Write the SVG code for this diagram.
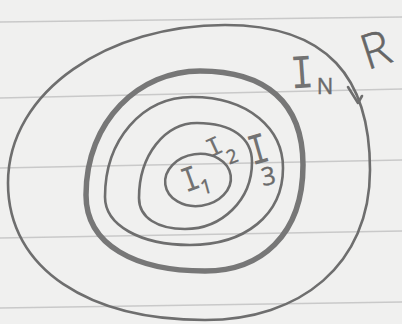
<svg xmlns="http://www.w3.org/2000/svg" width="402" height="324" viewBox="0 0 402 324">
<style>
.paper{fill:#f0f0ef}
.rule{stroke:#c9c9c9;stroke-width:1.6;fill:none}
.ink{stroke:#6e6e6e;fill:none;stroke-width:2.6;stroke-linecap:round;stroke-linejoin:round}
.thick{stroke:#777;stroke-width:5.5}
.lbl{font-family:"Liberation Mono",monospace;fill:#727272;text-anchor:middle;dominant-baseline:central}
.sub{font-family:"Open Sans","Liberation Sans",sans-serif;font-weight:400;fill:#6a6a6a;stroke:#6a6a6a;stroke-width:0.4;text-anchor:middle;dominant-baseline:central}
.big{font-family:"Open Sans","Liberation Sans",sans-serif;font-weight:300;fill:#666;stroke:#666;stroke-width:0.6;text-anchor:middle;dominant-baseline:central}
</style>
<rect class="paper" x="0" y="0" width="402" height="324"/>
<g id="rules">
<path class="rule" d="M0,22 L402,17"/>
<path class="rule" d="M0,98 L402,89"/>
<path class="rule" d="M0,168 L402,160"/>
<path class="rule" d="M0,238 L402,231"/>
<path class="rule" d="M0,308 L402,302"/>
</g>
<g id="R">
<path class="ink" d="M225,25 C328,25 370,78 370,170 C370,265 300,320 205,320 C90,320 8,270 8,183 C8,90 110,25 225,25 Z"/>
<path class="ink" d="M348,87 L358,103 L362,96"/>
<text class="big" font-size="48" transform="translate(375 48) rotate(-18)">R</text>
</g>
<g id="IN">
<path class="ink thick" d="M200,71 C265,71 303,102 303,165 C303,236 260,271 205,271 C135,271 86,245 86,195 C86,120 140,71 200,71 Z"/>
<text class="lbl" font-size="48" transform="translate(302 75) rotate(-4) scale(0.8 1)">I</text>
<text class="sub" font-size="22" transform="translate(325 85)">N</text>
</g>
<g id="I3">
<path class="ink" d="M192,97 C250,97 283,130 283,168 C283,215 245,245 190,245 C140,245 105,225 105,197 C105,140 142,97 192,97 Z"/>
<text class="lbl" font-size="44" transform="translate(259 152) rotate(-16) scale(0.75 1)">I</text>
<text class="sub" font-size="25" transform="translate(268 175) rotate(-10)">3</text>
</g>
<g id="I2">
<path class="ink" d="M197,123 C232,123 252,138 252,162 C252,200 222,229 185,229 C158,229 139,218 139,198 C139,155 165,123 197,123 Z"/>
<text class="lbl" font-size="27" transform="translate(215 148) rotate(-25)">I</text>
<text class="sub" font-size="19" transform="translate(232 156) rotate(-20)">2</text>
</g>
<g id="I1">
<ellipse class="ink" cx="198" cy="180" rx="33" ry="26" transform="rotate(-8 198 180)"/>
<text class="lbl" font-size="36" transform="translate(191 181) rotate(-20) scale(0.8 1)">I</text>
<text class="sub" font-size="20" transform="translate(206 186) rotate(-15)">1</text>
</g>
</svg>
